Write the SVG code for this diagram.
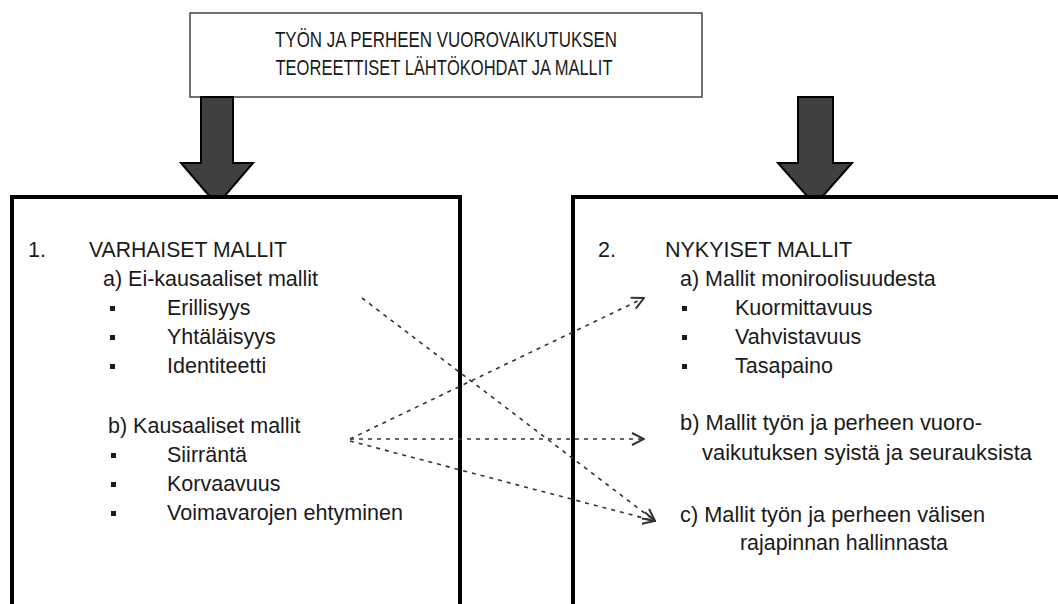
<svg xmlns="http://www.w3.org/2000/svg" width="1058" height="604" viewBox="0 0 1058 604">
<style>
text{font-family:"Liberation Sans",Arial,sans-serif;font-size:21.5px;fill:#1a1a1a}
.t{font-size:22px}
.box{fill:#fff;stroke:#000;stroke-width:4}
.blk{fill:#404040;stroke:#000;stroke-width:2;stroke-linejoin:miter}
.dash{fill:none;stroke:#333;stroke-width:1.6;stroke-dasharray:4 5}
.bul{fill:#1a1a1a}
</style>
<defs>
<marker id="ah" viewBox="0 0 14 14" refX="13" refY="7" markerWidth="14" markerHeight="14" markerUnits="userSpaceOnUse" orient="auto">
<path d="M1,1 L13,7 L1,13" fill="none" stroke="#333" stroke-width="2"/>
</marker>
</defs>
<g id="title">
<rect x="190" y="13" width="512" height="84" fill="#fff" stroke="#444" stroke-width="1.5"/>
<text class="t" x="446" y="47" text-anchor="middle" textLength="342" lengthAdjust="spacingAndGlyphs">TYÖN JA PERHEEN VUOROVAIKUTUKSEN</text>
<text class="t" x="444" y="75" text-anchor="middle" textLength="337" lengthAdjust="spacingAndGlyphs">TEOREETTISET LÄHTÖKOHDAT JA MALLIT</text>
</g>
<g id="arrow-left">
<path class="blk" d="M201,97 L233,97 L233,163 L253,163 L217,205 L181,163 L201,163 Z"/>
</g>
<g id="arrow-right">
<path class="blk" d="M798,97 L833,97 L833,163 L852,163 L815,205 L778,163 L798,163 Z"/>
</g>
<g id="early-models">
<rect class="box" x="12" y="197" width="448" height="430"/>
<text x="28" y="257">1.</text>
<text x="89" y="257" textLength="198" lengthAdjust="spacingAndGlyphs">VARHAISET MALLIT</text>
<text x="103" y="286">a) Ei-kausaaliset mallit</text>
<rect class="bul" x="110" y="306" width="5" height="5"/>
<text x="167" y="315">Erillisyys</text>
<rect class="bul" x="110" y="335" width="5" height="5"/>
<text x="167" y="344">Yhtäläisyys</text>
<rect class="bul" x="110" y="364" width="5" height="5"/>
<text x="167" y="373">Identiteetti</text>
<text x="108" y="433">b) Kausaaliset mallit</text>
<rect class="bul" x="111" y="453" width="5" height="5"/>
<text x="167" y="462">Siirräntä</text>
<rect class="bul" x="111" y="482" width="5" height="5"/>
<text x="167" y="491">Korvaavuus</text>
<rect class="bul" x="111" y="511" width="5" height="5"/>
<text x="167" y="520" textLength="236" lengthAdjust="spacingAndGlyphs">Voimavarojen ehtyminen</text>
</g>
<g id="current-models">
<rect class="box" x="573" y="197" width="500" height="430"/>
<text x="598" y="257">2.</text>
<text x="665" y="257">NYKYISET MALLIT</text>
<text x="680" y="286">a) Mallit moniroolisuudesta</text>
<rect class="bul" x="682" y="306" width="5" height="5"/>
<text x="735" y="315">Kuormittavuus</text>
<rect class="bul" x="682" y="335" width="5" height="5"/>
<text x="735" y="344">Vahvistavuus</text>
<rect class="bul" x="682" y="364" width="5" height="5"/>
<text x="735" y="373">Tasapaino</text>
<text x="680" y="430" textLength="302" lengthAdjust="spacingAndGlyphs">b) Mallit työn ja perheen vuoro-</text>
<text x="702" y="460" textLength="330" lengthAdjust="spacingAndGlyphs">vaikutuksen syistä ja seurauksista</text>
<text x="680" y="522" textLength="305" lengthAdjust="spacingAndGlyphs">c) Mallit työn ja perheen välisen</text>
<text x="740" y="550" textLength="208" lengthAdjust="spacingAndGlyphs">rajapinnan hallinnasta</text>
</g>
<g id="connectors">
<line class="dash" x1="362" y1="298" x2="655" y2="521" marker-end="url(#ah)"/>
<line class="dash" x1="350" y1="439" x2="644" y2="298" marker-end="url(#ah)"/>
<line class="dash" x1="350" y1="439" x2="644" y2="439" marker-end="url(#ah)"/>
<line class="dash" x1="350" y1="441" x2="655" y2="521" marker-end="url(#ah)"/>
</g>
</svg>
